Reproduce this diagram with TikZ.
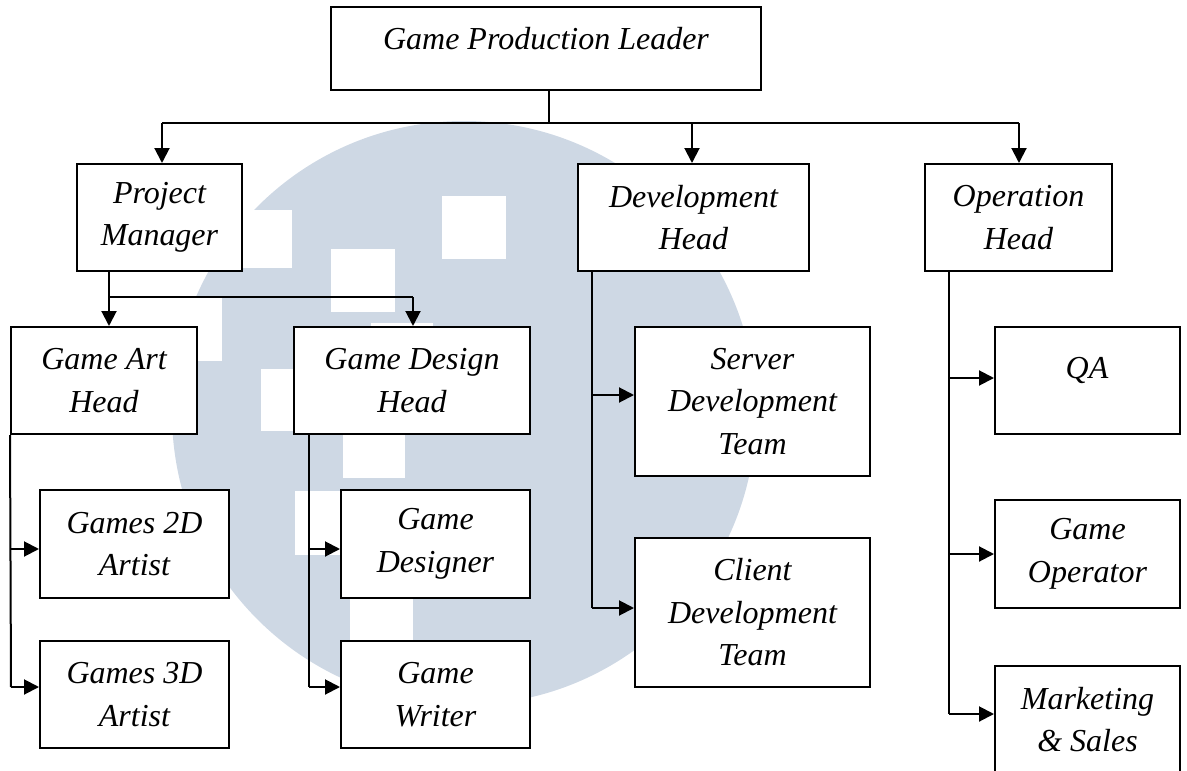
\documentclass[tikz,border=0pt]{standalone}
\usepackage{fontspec}
\setmainfont{Liberation Serif}
\usetikzlibrary{arrows.meta}
\definecolor{wm}{RGB}{206,216,228}
\newcommand\orgbox[6]{\node[box, minimum width={#4-#2}, minimum height={#5-#3}] (#1) at ({(#2+#4)/2},{(#3+#5)/2}) {#6};}
\begin{document}
\begin{tikzpicture}[x=1pt,y=-1pt,
  box/.style={draw=black, line width=2pt, fill=white, inner sep=0pt, align=center, font=\fontsize{32}{42.5}\selectfont\itshape},
  lbl/.style={inner sep=0pt, align=center, font=\fontsize{32}{42.5}\selectfont\itshape},
  conn/.style={line width=2pt, draw=black},
  arr/.style={conn, -{Triangle[length=15pt,width=15pt]}},
]
\useasboundingbox (0,0) rectangle (1187,771);
\begin{scope}
\clip (0,0) rectangle (1187,771);
% watermark
\fill[wm] (464,413) circle[radius=292];
\fill[white] (442,196) rectangle (506,259);
\fill[white] (331,249) rectangle (395,312);
\fill[white] (229,210) rectangle (292,268);
\fill[white] (159,296) rectangle (222,361);
\fill[white] (261,369) rectangle (324,431);
\fill[white] (371,323) rectangle (433,386);
\fill[white] (343,415) rectangle (405,478);
\fill[white] (295,491) rectangle (358,555);
\fill[white] (350,598) rectangle (413,661);

% boxes
\orgbox{leader}{331}{7}{761}{90}{}
\node[lbl] (leadertxt) at (546,39) {Game Production Leader};
\orgbox{pm}{77}{164}{242}{271}{Project\\Manager}
\orgbox{dev}{578}{164}{809}{271}{Development\\Head}
\orgbox{op}{925}{164}{1112}{271}{Operation\\Head}
\orgbox{art}{11}{327}{197}{434}{Game Art\\Head}
\orgbox{design}{294}{327}{530}{434}{Game Design\\Head}
\orgbox{g2d}{40}{490}{229}{598}{Games 2D\\Artist}
\orgbox{g3d}{40}{641}{229}{748}{Games 3D\\Artist}
\orgbox{designer}{341}{490}{530}{598}{Game\\Designer}
\orgbox{writer}{341}{641}{530}{748}{Game\\Writer}
\orgbox{server}{635}{327}{870}{476}{Server\\Development\\Team}
\orgbox{client}{635}{538}{870}{687}{Client\\Development\\Team}
\orgbox{qa}{995}{327}{1180}{434}{}
\node[lbl] (qatxt) at (1087,370) {QA};
\orgbox{operator}{995}{500}{1180}{608}{Game\\Operator}
\orgbox{marketing}{995}{666}{1180}{773}{Marketing\\\& Sales}

% connectors
\coordinate (lj) at (549,123);
\coordinate (jl) at (162,123);
\coordinate (jd) at (692,123);
\coordinate (jo) at (1019,123);
\draw[conn] (lj |- leader.south) -- (lj);
\draw[conn] (jl) -- (jo);
\draw[arr] (jl) -- (jl |- pm.north);
\draw[arr] (jd) -- (jd |- dev.north);
\draw[arr] (jo) -- (jo |- op.north);

\coordinate (pa) at (109,297);
\coordinate (pd) at (413,297);
\draw[conn] (pa |- pm.south) -- (pa) -- (pd);
\draw[arr] (pa) -- (pa |- art.north);
\draw[arr] (pd) -- (pd |- design.north);

\coordinate (a1) at (11,549);
\coordinate (a2) at (11,687);
\draw[conn] (art.south west) -- (a2);
\draw[arr] (a1) -- (a1 -| g2d.west);
\draw[arr] (a2) -- (a2 -| g3d.west);

\coordinate (d1) at (309,549);
\coordinate (d2) at (309,687);
\draw[conn] (d1 |- design.south) -- (d2);
\draw[arr] (d1) -- (d1 -| designer.west);
\draw[arr] (d2) -- (d2 -| writer.west);

\coordinate (v1) at (592,395);
\coordinate (v2) at (592,608);
\draw[conn] (v1 |- dev.south) -- (v2);
\draw[arr] (v1) -- (v1 -| server.west);
\draw[arr] (v2) -- (v2 -| client.west);

\coordinate (o1) at (949,378);
\coordinate (o2) at (949,554);
\coordinate (o3) at (949,714);
\draw[conn] (o1 |- op.south) -- (o3);
\draw[arr] (o1) -- (o1 -| qa.west);
\draw[arr] (o2) -- (o2 -| operator.west);
\draw[arr] (o3) -- (o3 -| marketing.west);
\end{scope}
\end{tikzpicture}
\end{document}
